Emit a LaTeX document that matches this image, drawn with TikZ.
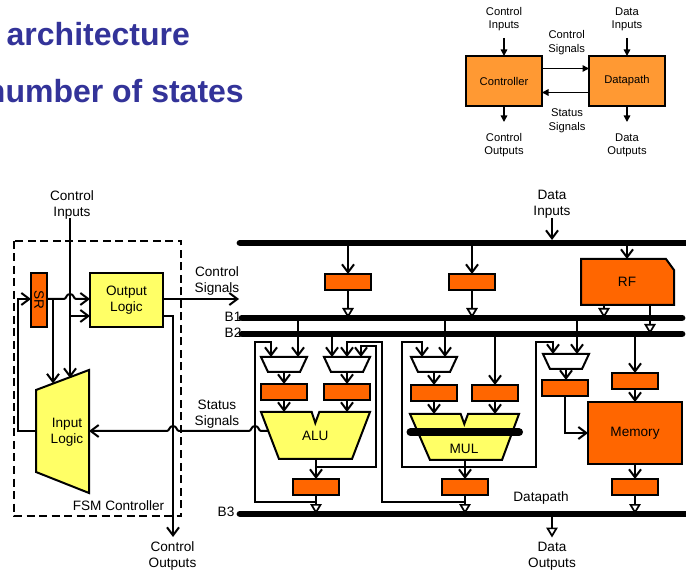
\documentclass[tikz,border=0pt]{standalone}
\usepackage{fontspec}
\usepackage{graphicx}
\setmainfont{Liberation Sans}
\usetikzlibrary{arrows.meta}
\definecolor{regor}{HTML}{FF6600}
\definecolor{lyel}{HTML}{FFFF66}
\definecolor{lor}{HTML}{FF9933}
\definecolor{ttl}{HTML}{333399}
\tikzset{
  lab/.style={font=\fontsize{13.6}{16}\selectfont,align=center,inner sep=0pt},
  lbs/.style={font=\fontsize{11.2}{13.6}\selectfont,align=center,inner sep=0pt},
  title/.style={font=\fontsize{32}{36}\selectfont\bfseries,text=ttl,inner sep=0pt},
  boxb/.style={draw=black,line width=2pt,outer sep=0pt,inner sep=0pt,line join=miter},
  regbox/.style={boxb,fill=regor,minimum width=46pt,minimum height=16pt},
  wire/.style={line width=2pt,line join=miter},
  vtip/.style={wire,-{Straight Barb[length=8pt,width=12pt,line width=2pt]}},
  vtipl/.style={wire,{Straight Barb[length=8pt,width=12pt,line width=2pt]}-},
  ttip/.style={wire,-{Triangle[open,fill=white,length=10pt,width=11.5pt,line width=1.7pt]}},
  ftip/.style={line width=1.5pt,-{Triangle[length=6.5pt,width=6.5pt]}},
  bus/.style={line width=6.8pt,line cap=round},
}
\newcommand{\myreg}[3]{\node[regbox] (#1) at (#2,#3) {};}
\newcommand{\mymux}[3]{%
  \draw[boxb,fill=white] ({#2-23},#3) -- ({#2+23},#3) -- ({#2+16},{#3+15}) -- ({#2-16},{#3+15}) -- cycle;
  \coordinate (#1-n) at (#2,#3);
  \coordinate (#1-s) at (#2,{#3+15});
}
\newcommand{\hopr}[2]{-- ({#1-6},#2) .. controls ({#1-3.5},#2) and ({#1-4},{#2-5}) .. (#1,{#2-5}) .. controls ({#1+4},{#2-5}) and ({#1+3.5},#2) .. ({#1+6},#2)}
\begin{document}
\begin{tikzpicture}[x=1pt,y=-1pt]
\useasboundingbox (0,0) rectangle (686,577);
% titles
\node[title,anchor=base west] (t1) at (6.5,45.5) {architecture};
\node[title,anchor=base east] (t2) at (244,102.5) {number of states};
% small overview
\node[boxb,fill=lor,minimum width=76pt,minimum height=50pt,font=\fontsize{11.2}{13.6}\selectfont] (ctl) at (504,81) {Controller};
\node[boxb,fill=lor,minimum width=76pt,minimum height=50pt,font=\fontsize{11.2}{13.6}\selectfont] (dp) at (627,81) {Datapath};
\node[lbs] (a1) at (504,19.2) {Control\\Inputs};
\node[lbs] (a2) at (627,19.2) {Data\\Inputs};
\node[lbs] (a3) at (566.7,42.7) {Control\\Signals};
\node[lbs] (a4) at (567,120.7) {Status\\Signals};
\node[lbs] (a5) at (504,145.2) {Control\\Outputs};
\node[lbs] (a6) at (627,145.2) {Data\\Outputs};
\coordinate (a1e) at (504,38);
\coordinate (a2e) at (627,38);
\coordinate (a5e) at (504,122);
\coordinate (a6e) at (627,122);
\draw[ftip] (a1e) -- (ctl.north);
\draw[ftip] (a2e) -- (dp.north);
\draw[ftip] (ctl.south) -- (a5e);
\draw[ftip] (dp.south) -- (a6e);
\draw[ftip] (ctl.east |- 0,68.5) -- (dp.west |- 0,68.5);
\draw[ftip] (dp.west |- 0,92.5) -- (ctl.east |- 0,92.5);
% bus coordinates
\coordinate (bt) at (240,243);   \coordinate (btr) at (690,243);
\coordinate (b1) at (242,318);   \coordinate (b1r) at (682,318);
\coordinate (b2) at (242,334);   \coordinate (b2r) at (682,334);
\coordinate (b3) at (240,514);   \coordinate (b3r) at (690,514);
% FSM
\draw[line width=1.4pt,dash pattern=on 8pt off 4.5pt] (14,241) rectangle (181,516);
\node[boxb,fill=regor,minimum width=16pt,minimum height=54pt,font=\fontsize{13.6}{16}\selectfont] (sr) at (39,300) {\rotatebox{-90}{SR}};
\node[boxb,fill=lyel,minimum width=73pt,minimum height=54pt,align=center,font=\fontsize{13.6}{16}\selectfont] (ol) at (126.5,300) {Output\\Logic};
\draw[boxb,fill=lyel] (36,390) -- (89,370) -- (89,493) -- (36,472) -- cycle;
\node[lab] (il) at (67,432.5) {Input\\Logic};
\coordinate (ilr) at (89,431);
\coordinate (ill) at (36,431);
\coordinate (ci) at (70,218);
\coordinate (cit) at (70,378);
\coordinate (srt) at (53,383.5);
\coordinate (cot) at (173,537);
\node[lab] (l1) at (72,204.5) {Control\\Inputs};
\node[lab] (l2) at (217,281) {Control\\Signals};
\node[lab] (l3) at (217,414.5) {Status\\Signals};
\node[lab] (l4) at (118.5,506) {FSM Controller};
\node[lab] (l5) at (172.5,556) {Control\\Outputs};
\node[lab] (l6) at (233,317) {B1};
\node[lab] (l7) at (233,333) {B2};
\node[lab] (l8) at (226,512) {B3};
\node[lab] (l9) at (552,204.5) {Data\\Inputs};
\node[lab] (l10) at (552,556) {Data\\Outputs};
\node[lab] (l11) at (541,498) {Datapath};
\draw[vtip] (ci) -- (cit);
\draw[vtip] (70,316) -- (ol.west |- 0,316);
\draw[vtip] (sr.east |- 0,299) \hopr{70}{299} -- (ol.west |- 0,299);
\draw[vtip] (53,299) -- (srt);
\draw[vtip] (ill) -- (18,431) -- (18,299) -- (sr.west |- 0,299);
\draw[vtip] (ol.east |- 0,299) -- (239,299);
\draw[vtip] (ol.east |- 0,316) -- (173,316) -- (cot);
% datapath registers
\myreg{r1}{348}{282}
\myreg{r2}{472}{282}
\myreg{r3}{284}{392}
\myreg{r4}{347}{392}
\myreg{r5}{316}{487}
\myreg{r6}{434}{393}
\myreg{r7}{495}{393}
\myreg{r8}{465}{487}
\myreg{r9}{565}{388}
\myreg{r10}{635}{381}
\myreg{r11}{635}{487}
\mymux{m1}{284}{357}
\mymux{m2}{347}{357}
\mymux{m3}{434}{357}
\mymux{m5}{566}{354}
% ALU, MUL
\draw[boxb,fill=lyel] (261,412) -- (311.7,412) -- (315.3,423) -- (319.3,412) -- (370,412) -- (352,459) -- (279,459) -- cycle;
\node[lab] (alu) at (315.3,435.5) {ALU};
\draw[boxb,fill=lyel] (410,414) -- (460.7,414) -- (464.3,424) -- (468,414) -- (519,414) -- (502,460) -- (430,460) -- cycle;
\node[lab] (mul) at (464,448.5) {MUL};
\coordinate (barl) at (410.5,432.3);
\coordinate (barr) at (519,432.3);
\draw[line width=8pt,line cap=round] (barl) -- (barr);
\coordinate (alus) at (316,459);
\coordinate (muls) at (465,460);
% RF, memory
\draw[boxb,fill=regor] (581,259) -- (666,259) -- (674,270) -- (674,305) -- (581,305) -- cycle;
\node[lab] (rf) at (627,282) {RF};
\node[boxb,fill=regor,minimum width=94pt,minimum height=62pt,font=\fontsize{13.6}{16}\selectfont] (mem) at (635,433) {Memory};
\coordinate (rfn) at (627,259);
\coordinate (rfs1) at (604,305);
\coordinate (rfs2) at (650,305);
% connectors
\draw[vtip] (552,218) -- (552,240);
\draw[vtip] (r1.north |- bt) -- (r1.north);
\draw[vtip] (r2.north |- bt) -- (r2.north);
\draw[vtip] (rfn |- bt) -- (rfn);
\draw[ttip] (r1.south) -- (r1.south |- b1);
\draw[ttip] (r2.south) -- (r2.south |- b1);
\draw[ttip] (rfs1) -- (rfs1 |- b1);
\draw[ttip] (rfs2) -- (rfs2 |- b2);
\foreach \m/\r in {m1/r3,m2/r4,m3/r6}{\draw[vtip] (\m-s) -- (\r.north);}
\draw[vtip] (m5-s) -- (566,380);
\draw[vtip] (r3.south) -- (284,412);
\draw[vtip] (r4.south) -- (347,412);
\draw[vtip] (r6.south) -- (434,414);
\draw[vtip] (r7.south) -- (495,414);
\draw[vtip] (298,318) -- (298,357);
\draw[vtip] (332,334) -- (332,357);
\draw[vtip] (445,318) -- (445,357);
\draw[vtip] (577,318) -- (577,354);
\draw[vtip] (r7.north |- b2) -- (r7.north);
\draw[vtip] (r10.north |- b2) -- (r10.north);
\draw[vtip] (r10.south) -- (mem.north -| r10.south);
\draw[vtip] (mem.south -| r11.north) -- (r11.north);
\draw[vtip] (alus) -- (r5.north);
\draw[vtip] (muls) -- (r8.north);
\draw[ttip] (r5.south) -- (r5.south |- b3);
\draw[ttip] (r8.south) -- (r8.south |- b3);
\draw[ttip] (r11.south) -- (r11.south |- b3);
\draw[ttip] (552,514) -- (552,537.5);
\draw[wire] (316,502) -- (255,502) -- (255,342) -- (271,342);
\draw[vtip] (271,341) -- (271,357);
\draw[wire] (465,502) -- (382,502) -- (382,342) -- (346,342);
\draw[vtip] (347,341) -- (347,357);
\draw[wire] (316,467) -- (376,467) -- (376,346) -- (361,346);
\draw[vtip] (361,345) -- (361,357);
\draw[wire] (465,467) -- (402,467) -- (402,342) -- (422,342);
\draw[vtip] (422,341) -- (422,357);
\draw[wire] (465,467) -- (536,467) -- (536,342) -- (553,342);
\draw[vtip] (553,341) -- (553,354);
\draw[vtip] (r9.south) -- (565,433) -- (mem.west |- 0,433);
\draw[vtipl] (ilr) -- (167,431) .. controls (169.5,431) and (169,426) .. (173,426) .. controls (177,426) and (176.5,431) .. (179,431) -- (249,431) .. controls (251.5,431) and (251,426) .. (255,426) .. controls (259,426) and (258.5,431) .. (261,431) -- (268.5,431);
% buses
\draw[bus] (bt) -- (btr);
\draw[bus] (b1) -- (b1r);
\draw[bus] (b2) -- (b2r);
\draw[bus] (b3) -- (b3r);
\end{tikzpicture}
\end{document}
